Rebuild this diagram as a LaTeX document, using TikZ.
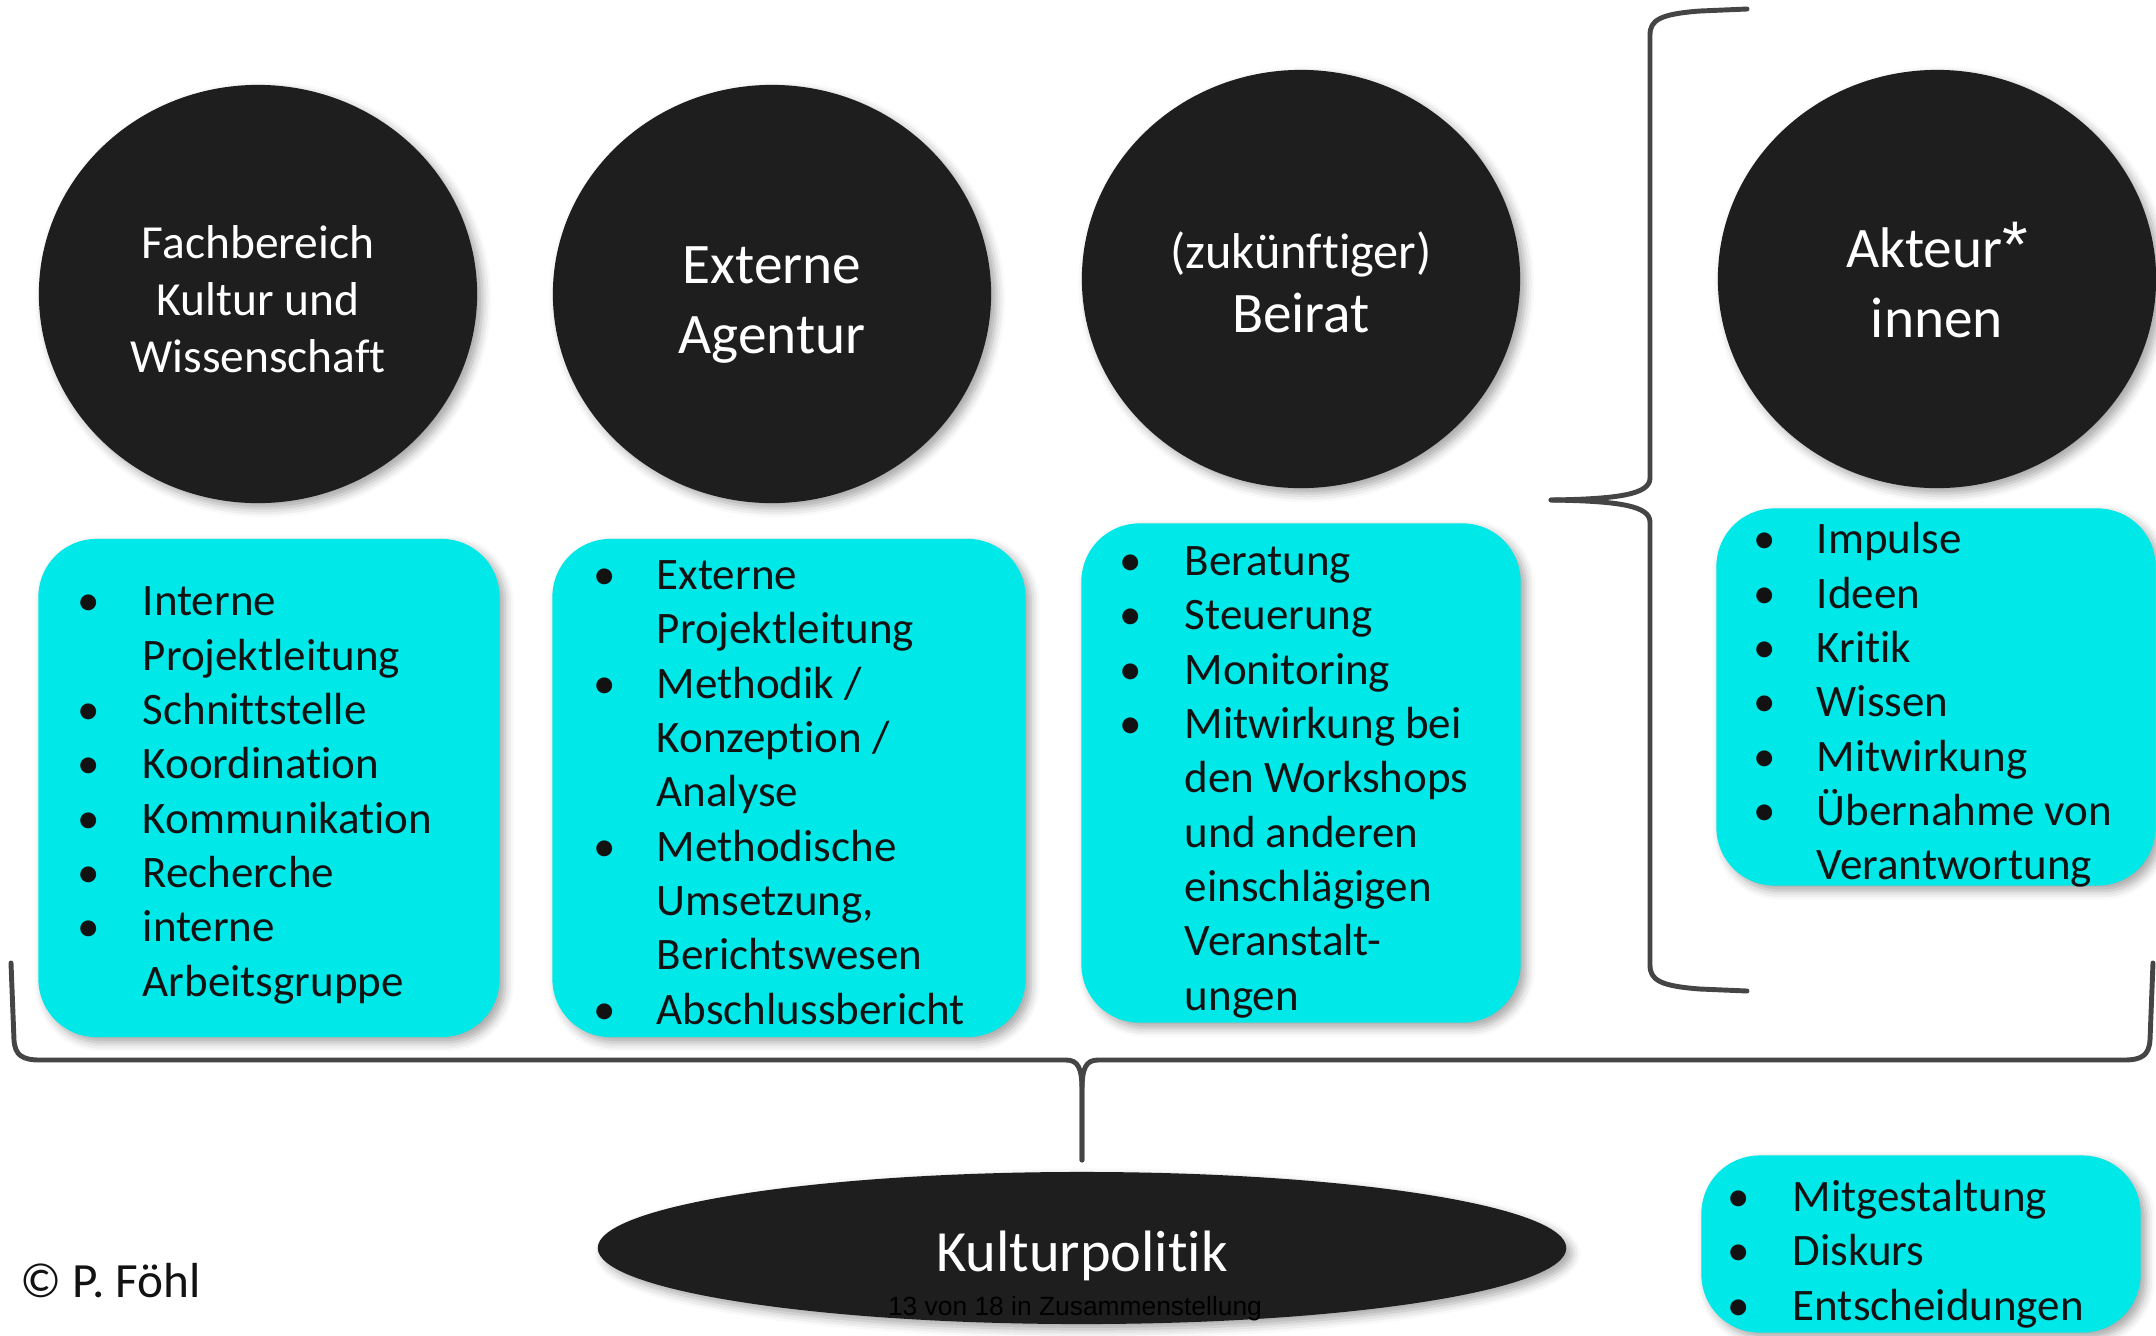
\documentclass[tikz,border=0pt]{standalone}
\usepackage{fontspec}
\setmainfont[Ligatures=NoCommon]{Carlito}
\setsansfont[Ligatures=NoCommon]{Carlito}
\newfontfamily\arialfont{Liberation Sans}
\usetikzlibrary{shapes.geometric,shadows.blur}
\definecolor{kreisfarbe}{HTML}{1E1E1E}
\definecolor{tuerkis}{HTML}{00E8E8}
\definecolor{klammerfarbe}{HTML}{454545}
\newcommand{\punkt}{\textbullet}
\newcommand{\stern}{{\arialfont\scalebox{1.15}{*}}}

\begin{document}
\begin{tikzpicture}[
        x=0.01cm,
        y=-0.01cm,
        font=\sffamily
    ]
    \tikzset{
        schatten/.style = {blur shadow={shadow xshift=1.5pt, shadow yshift=-1.5pt, shadow blur radius=2.5pt, shadow opacity=35}},
        kreis/.style = {ellipse, fill=kreisfarbe, inner sep=0pt,
                        minimum width=4.38cm, minimum height=4.18cm, schatten},
        kreistext/.style = {text=white, align=center, inner sep=0pt},
        kasten/.style = {rectangle, rounded corners=0.58cm, fill=tuerkis, schatten},
        liste/.style = {anchor=west, inner sep=0pt, text=black!93, font=\fontsize{12.8}{15.45}\selectfont},
        klammer/.style = {draw=klammerfarbe, line width=1.4pt, line cap=round, line join=round},
    }
    \useasboundingbox (0,0) rectangle (2156,1335);
    %
    \node[kreis] (fach) at (258,294) {};
    \node[kreis] (agentur) at (772,294) {};
    \node[kreis] (beirat) at (1301,279) {};
    \node[kreis] (akteure) at (1937,279) {};
    \node[kreistext, font=\fontsize{13.5}{16.3}\selectfont] (fachtext) at (258,299) {Fachbereich\\Kultur und\\Wissenschaft};
    \node[kreistext, font=\fontsize{16.3}{19.9}\selectfont] (agenturtext) at (772,305) {Externe\\Agentur};
    \node[kreistext, font=\fontsize{16.3}{18.3}\selectfont] (beirattext) at (1301,282) {{\fontsize{14.3}{18.3}\selectfont(zukünftiger)}\\Beirat};
    \node[kreistext, font=\fontsize{16.3}{19.9}\selectfont] (akteuretext) at (1937,280) {Akteur\stern\\innen};
    %
    \node[kasten, minimum width=4.61cm, minimum height=4.98cm] (k1) at (269,788) {};
    \node[kasten, minimum width=4.73cm, minimum height=4.98cm] (k2) at (789,788) {};
    \node[kasten, minimum width=4.39cm, minimum height=4.99cm] (k3) at (1301,773) {};
    \node[kasten, minimum width=4.39cm, minimum height=3.77cm] (k4) at (1936,697) {};
    \node[kasten, minimum width=4.39cm, minimum height=1.77cm] (k5) at (1921,1244) {};
    %
    \node[liste] (l1) at (77,795) {\begin{tabular}{@{}p{0.65cm}@{}l@{}}
        \punkt & Interne\\
               & Projektleitung\\
        \punkt & Schnittstelle\\
        \punkt & Koordination\\
        \punkt & Kommunikation\\
        \punkt & Recherche\\
        \punkt & interne\\
               & Arbeitsgruppe
    \end{tabular}};
    \node[liste] (l2) at (593,796) {\begin{tabular}{@{}p{0.63cm}@{}l@{}}
        \punkt & Externe\\
               & Projektleitung\\
        \punkt & Methodik /\\
               & Konzeption /\\
               & Analyse\\
        \punkt & Methodische\\
               & Umsetzung,\\
               & Berichtswesen\\
        \punkt & Abschlussbericht
    \end{tabular}};
    \node[liste] (l3) at (1119,782) {\begin{tabular}{@{}p{0.65cm}@{}l@{}}
        \punkt & Beratung\\
        \punkt & Steuerung\\
        \punkt & Monitoring\\
        \punkt & Mitwirkung bei\\
               & den Workshops\\
               & und anderen\\
               & einschlägigen\\
               & Veranstalt-\\
               & ungen
    \end{tabular}};
    \node[liste] (l4) at (1753,706) {\begin{tabular}{@{}p{0.63cm}@{}l@{}}
        \punkt & Impulse\\
        \punkt & Ideen\\
        \punkt & Kritik\\
        \punkt & Wissen\\
        \punkt & Mitwirkung\\
        \punkt & Übernahme von\\
               & Verantwortung
    \end{tabular}};
    \node[liste] (l5) at (1727,1255) {\begin{tabular}{@{}p{0.65cm}@{}l@{}}
        \punkt & Mitgestaltung\\
        \punkt & Diskurs\\
        \punkt & Entscheidungen
    \end{tabular}};
    %
    \node[ellipse, fill=kreisfarbe, inner sep=0pt, minimum width=9.68cm, minimum height=1.52cm, schatten] (kp) at (1082,1248) {};
    \node[kreistext, font=\fontsize{16.6}{20}\selectfont] (kptext) at (1082,1256) {Kulturpolitik};
    \node[font=\arialfont\fontsize{7.5}{9}\selectfont, text=black, inner sep=0pt] (seite) at (1075,1309) {13 von 18 in Zusammenstellung};
    \node[anchor=west, inner sep=0pt, text=black!93, font=\fontsize{14}{17}\selectfont] (copy) at (20,1281) {© P. Föhl};
    %
    \coordinate (ul) at (11,963);
    \coordinate (ur) at (2153,963);
    \coordinate (uspitze) at (1082,1160);
    \draw[klammer] (ul) -- (14,1040) .. controls (15,1055) and (22,1060) .. (40,1060) -- (1066,1060)
        .. controls (1078,1060) and (1082,1068) .. (1082,1090) -- (uspitze);
    \draw[klammer] (uspitze) -- (1082,1090) .. controls (1082,1068) and (1086,1060) .. (1098,1060)
        -- (2124,1060) .. controls (2142,1060) and (2149,1055) .. (2150,1040) -- (ur);
    %
    \coordinate (ro) at (1747,9);
    \coordinate (rspitze) at (1551,500);
    \coordinate (ru) at (1747,991);
    \draw[klammer] (ro) -- (1700,11) .. controls (1660,14) and (1650,20) .. (1650,35) -- (1650,478)
        .. controls (1650,494) and (1620,499) .. (rspitze);
    \draw[klammer] (rspitze) .. controls (1620,501) and (1650,506) .. (1650,522) -- (1650,965)
        .. controls (1650,980) and (1660,986) .. (1700,989) -- (ru);
\end{tikzpicture}
\end{document}
